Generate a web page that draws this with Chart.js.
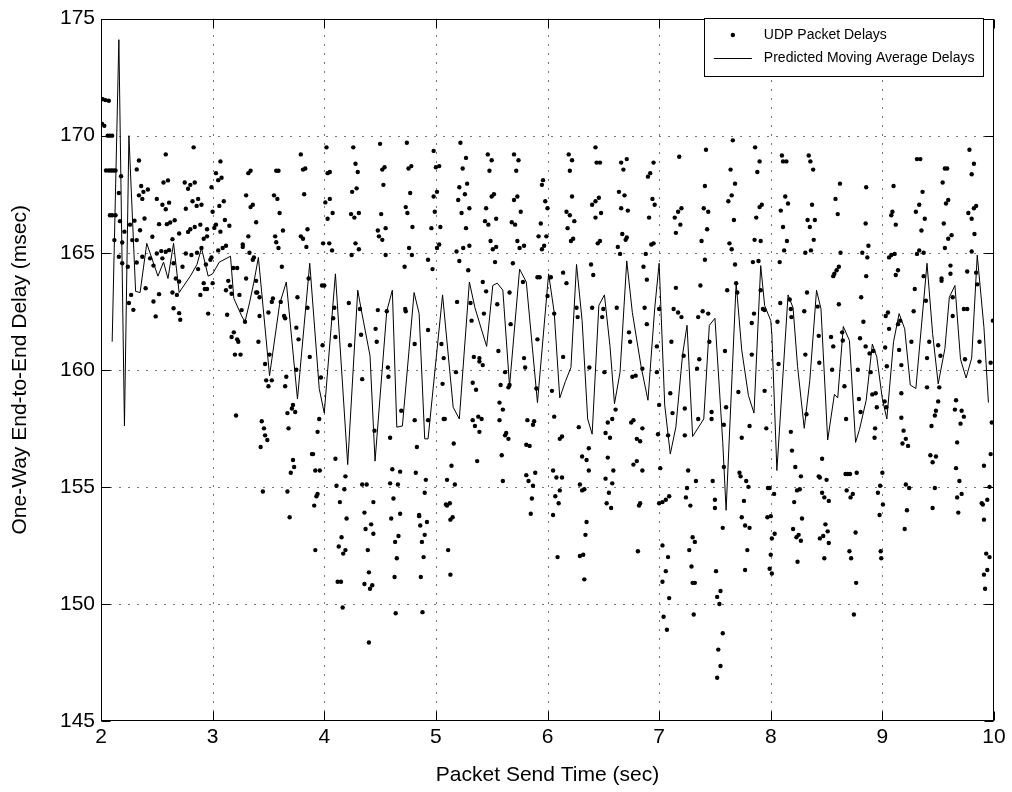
<!DOCTYPE html>
<html>
<head>
<meta charset="utf-8">
<script src="https://cdn.jsdelivr.net/npm/chart.js@4.4.1/dist/chart.umd.min.js"></script>
<style>
  html, body { margin: 0; padding: 0; background: #fff; }
  canvas { display: block; }
</style>
</head>
<body>
<canvas id="delayChart" width="1012" height="792"></canvas>
<script>
// ticks
const xTicks = [2, 3, 4, 5, 6, 7, 8, 9, 10];
const yTicks = [145, 150, 155, 160, 165, 170, 175];
const legendLabels = ["UDP Packet Delays", "Predicted Moving Average Delays"];

// [send time (sec), delay (msec)]
const udpDelays = [
  [2.015,171.56],[2.04,171.52],[2.07,171.49],[2.01,170.5],[2.03,170.42],[2.06,170.0],[2.08,170.0],[2.10,170.0],
  [2.045,168.51],[2.07,168.51],[2.09,168.51],[2.11,168.51],[2.13,168.51],[2.08,166.6],[2.10,166.6],[2.13,166.6],
  [2.12,165.54],[2.16,167.55],[2.18,168.27],[2.17,166.35],[2.21,165.9],[2.16,164.83],[2.19,164.55],[2.19,165.44],
  [2.24,164.4],[2.27,163.2],[2.29,162.56],[2.25,162.85],[2.26,166.2],[2.28,165.54],[2.30,166.37],[2.32,164.58],
  [2.32,165.54],[2.32,168.56],[2.34,168.94],[2.35,165.96],[2.36,167.85],[2.34,167.45],[2.37,167.3],[2.38,167.6],
  [2.39,166.46],[2.37,164.83],[2.42,167.7],[2.40,163.48],[2.46,165.68],[2.44,164.76],[2.47,164.45],[2.49,162.28],
  [2.47,162.92],[2.50,167.3],[2.52,166.22],[2.50,164.97],[2.52,163.23],[2.54,165.07],[2.55,167.05],[2.55,164.76],
  [2.56,168.0],[2.58,169.2],[2.58,166.86],[2.58,165.04],[2.60,168.09],[2.59,166.22],[2.61,165.11],[2.61,167.14],
  [2.62,166.29],[2.64,165.58],[2.65,164.55],[2.66,166.39],[2.64,163.3],[2.65,162.63],[2.67,163.9],[2.68,163.2],
  [2.70,163.77],[2.70,162.42],[2.71,162.14],[2.70,165.82],[2.73,164.4],[2.75,168.0],[2.76,166.88],[2.78,167.73],
  [2.78,165.89],[2.76,164.97],
  [2.83,169.5],[2.80,167.9],[2.84,168.0],[2.82,167.2],[2.857,167.0],[2.90,167.05],[2.87,167.3],[2.80,166.0],
  [2.84,166.1],[2.89,166.2],[2.92,165.6],[2.95,165.7],[2.95,166.0],[2.81,164.9],[2.86,165.0],[2.90,165.2],
  [2.94,164.5],[2.99,164.8],[2.98,164.7],[2.96,162.4],[2.89,163.2],[2.92,163.7],[2.93,163.45],[2.95,163.45],
  [2.87,164.3],[3.0,163.7],[2.99,167.8],[3.0,166.75],[3.03,168.4],[3.05,168.1],[3.08,168.2],[3.07,168.9],
  [3.06,167.0],[3.10,167.2],[3.015,166.06],[3.03,166.2],[3.07,165.9],[3.11,166.4],[3.15,166.15],[3.05,165.1],
  [3.09,165.2],[3.12,165.3],[3.14,163.8],[3.16,163.55],[3.12,163.4],[3.17,163.25],[3.185,164.35],[3.22,164.35],
  [3.24,163.2],[3.26,162.55],[3.29,162.05],[3.30,163.9],[3.13,162.35],[3.17,161.4],[3.22,161.3],[3.23,161.2],
  [3.19,161.6],[3.27,165.35],[3.27,165.25],[3.32,165.7],[3.30,167.45],[3.32,168.4],[3.34,168.5],[3.34,166.95],
  [3.36,167.05],[3.39,166.3],[3.33,165.0],[3.36,164.7],[3.37,164.8],[3.39,163.8],[3.40,163.3],[3.39,163.3],
  [3.42,163.1],[3.42,162.3],[3.41,161.2],[3.55,167.45],[3.58,167.3],[3.57,168.5],[3.59,168.5],[3.60,166.7],
  [3.63,165.95],[3.56,165.7],[3.57,165.45],[3.59,165.2],[3.62,164.4],[3.53,162.9],[3.54,163.05],[3.61,162.9],
  [3.64,162.3],[3.65,162.2],[3.50,162.45],[3.76,163.1],[3.75,161.8],[3.77,161.3],[3.79,169.2],[3.81,168.55],
  [3.83,168.6],[3.82,167.5],[3.79,165.7],[3.81,165.6],[3.84,165.25],[3.85,166.0],[3.86,163.9],[3.85,162.65],
  [3.20,160.65],[3.25,160.65],[3.47,160.25],[3.51,160.65],[3.48,159.55],[3.53,159.55],[3.50,159.3],[3.66,159.7],
  [3.65,159.3],[3.87,160.55],[3.75,160.0],[3.21,158.05],[3.44,157.8],[3.46,157.5],[3.47,157.2],[3.49,157.0],
  [3.43,156.7],[3.72,158.5],[3.71,158.35],[3.67,158.15],[3.74,158.2],[3.68,157.5],[3.72,156.15],[3.73,155.85],
  [3.70,155.6],[3.45,154.8],[3.67,154.8],[3.69,153.7],
  [4.02,169.5],[4.03,168.4],[4.05,168.45],[4.01,167.15],[4.05,167.3],[4.075,166.7],[4.03,166.45],[3.99,165.4],
  [4.045,165.4],[4.07,165.1],[4.26,169.5],[4.28,168.8],[4.30,168.45],[4.25,167.6],[4.29,167.75],[4.24,166.65],
  [4.27,166.5],[4.31,166.7],[4.28,165.4],[4.31,165.15],[4.245,164.9],[4.50,169.65],[4.52,168.55],[4.54,168.65],
  [4.53,167.9],[4.51,166.65],[4.48,165.95],[4.49,165.7],[4.52,165.55],[4.55,166.05],[4.55,164.9],[4.74,169.7],
  [4.755,168.6],[4.78,168.7],[4.77,167.55],[4.73,166.95],[4.745,166.7],[4.79,166.1],[4.76,165.2],[4.785,164.9],
  [4.72,164.4],[4.93,164.7],[4.93,161.7],[3.98,163.6],[4.00,163.6],[4.09,162.65],[4.08,162.2],[4.10,161.4],
  [4.22,162.85],[4.32,162.6],[4.33,161.5],[4.48,162.55],[4.46,161.75],[4.47,161.2],[4.56,162.5],[4.725,162.6],
  [4.73,162.5],[4.81,161.1],[3.985,161.05],[4.23,161.05],
  [3.97,159.67],[3.955,157.9],[3.94,157.35],[3.89,156.4],[3.90,156.4],[3.92,155.7],[3.96,155.7],[3.94,154.7],
  [3.93,154.6],[3.91,154.2],[3.92,152.3],[4.10,156.2],[4.19,155.45],[4.11,155.05],[4.18,154.9],[4.14,154.35],
  [4.20,153.65],[4.155,152.85],[4.13,152.45],[4.19,152.3],[4.17,152.15],[4.12,150.95],[4.15,150.95],[4.165,149.85],
  [4.34,159.6],[4.34,155.1],[4.38,155.1],[4.44,154.35],[4.36,153.9],[4.37,153.2],[4.42,153.4],[4.44,153.0],
  [4.39,152.3],[4.40,151.35],[4.36,150.85],[4.41,150.65],[4.43,150.8],[4.40,148.35],[4.45,157.4],[4.57,160.1],
  [4.575,159.7],[4.59,157.1],[4.61,155.75],[4.68,155.65],[4.59,155.15],[4.66,155.1],[4.62,154.5],[4.60,153.65],
  [4.68,153.85],[4.665,152.9],[4.635,152.65],[4.65,151.95],[4.63,151.15],[4.64,149.6],[4.69,158.25],[4.81,157.85],
  [4.83,156.7],[4.82,155.6],[4.91,155.3],[4.90,154.75],[4.85,153.8],[4.85,153.75],[4.86,153.35],[4.92,153.5],
  [4.90,152.95],[4.875,152.65],[4.89,152.0],[4.865,151.15],[4.88,149.65],[4.93,157.85],
  [4.98,169.35],[5.0,168.65],[5.03,168.7],[5.01,167.6],[4.98,167.4],[4.99,166.75],[4.96,166.05],[5.04,166.1],
  [5.01,165.2],[5.03,165.35],[4.97,164.3],[5.22,169.7],[5.27,169.05],[5.24,168.6],[5.28,167.95],[5.21,167.8],
  [5.26,167.5],[5.20,167.25],[5.30,166.9],[5.23,166.7],[5.27,166.05],[5.185,165.05],[5.245,165.2],[5.30,165.3],
  [5.21,164.65],[5.29,164.25],[5.465,169.2],[5.50,168.95],[5.48,168.5],[5.50,167.4],[5.52,167.5],[5.45,166.9],
  [5.54,166.45],[5.44,166.35],[5.47,166.2],[5.49,165.5],[5.51,165.15],[5.54,165.25],[5.53,164.6],[5.42,163.75],
  [5.45,163.35],[5.55,162.8],[5.43,162.4],[5.31,162.85],[5.32,162.1],[5.19,162.9],[5.05,161.1],[5.70,169.2],
  [5.74,168.95],[5.72,168.5],[5.73,167.4],[5.70,167.25],[5.76,166.75],[5.68,166.3],[5.71,166.2],[5.73,165.5],
  [5.75,165.2],[5.79,165.3],[5.69,164.55],[5.66,163.3],[5.67,161.95],[5.78,163.75],[5.91,163.95],[5.93,163.95],
  [5.91,161.3],[5.95,167.9],[5.96,168.1],[5.98,167.2],[6.0,166.9],[5.94,166.25],[5.92,165.7],[5.99,165.7],
  [5.97,165.3],[5.95,165.15],[6.0,163.15],
  [5.07,160.5],[5.06,159.4],[5.08,157.9],[5.07,157.9],[5.18,159.9],[5.16,156.85],[5.14,155.9],[5.10,155.3],
  [5.17,155.1],[5.09,154.25],[5.10,154.2],[5.125,154.3],[5.15,153.7],[5.13,153.6],[5.11,152.3],[5.13,151.25],
  [5.34,160.55],[5.39,160.5],[5.39,160.35],[5.42,160.2],[5.33,159.45],[5.36,159.15],[5.33,157.85],[5.38,158.0],
  [5.41,157.9],[5.35,157.6],[5.39,157.35],[5.37,156.1],[5.56,160.8],[5.62,159.9],[5.58,159.35],[5.65,159.25],
  [5.66,159.35],[5.57,158.6],[5.60,158.3],[5.57,157.85],[5.63,157.3],[5.62,157.2],[5.65,157.05],[5.59,156.35],
  [5.60,155.25],[5.79,160.5],[5.80,160.1],[5.90,159.2],[5.82,157.85],[5.87,157.65],[5.88,157.8],[5.81,156.8],
  [5.84,156.75],[5.89,155.6],[5.81,155.5],[5.83,155.25],[5.87,155.05],[5.86,154.5],[5.85,153.85],
  [6.19,169.2],[6.22,168.95],[6.20,168.5],[6.22,167.4],[6.17,166.75],[6.20,166.6],[6.24,166.35],[6.18,166.05],
  [6.21,165.5],[6.23,165.6],[6.43,169.5],[6.44,168.85],[6.47,168.85],[6.40,167.05],[6.43,167.2],[6.46,167.35],
  [6.43,166.5],[6.48,166.7],[6.45,165.4],[6.47,165.5],[6.66,168.85],[6.71,169.0],[6.68,168.55],[6.64,167.6],
  [6.69,167.45],[6.66,166.9],[6.72,166.8],[6.67,165.8],[6.70,165.55],[6.71,165.65],[6.63,165.25],[6.65,164.95],
  [6.95,168.85],[6.92,168.4],[6.90,168.25],[6.94,167.3],[6.96,167.05],[6.91,166.5],[6.95,165.4],[6.93,165.35],
  [6.88,164.95],
  [6.03,163.95],[6.14,164.15],[6.17,163.7],[6.06,162.4],[6.26,162.65],[6.27,162.25],[6.39,164.5],[6.41,164.05],
  [6.40,162.65],[6.50,162.6],[6.49,162.25],[6.62,162.65],[6.73,161.6],[6.74,161.2],[6.86,164.4],[6.89,163.85],
  [6.87,162.65],[6.89,161.95],[6.98,161.0],[7.0,162.6],[6.14,160.55],[6.375,160.1],[6.51,159.9],[6.76,159.7],
  [6.79,159.75],[6.85,160.05],[6.98,159.9],
  [6.04,159.1],[6.06,158.0],[6.11,157.05],[6.13,157.15],[6.05,155.7],[6.08,155.4],[6.13,155.4],[6.11,154.85],
  [6.07,154.6],[6.10,154.3],[6.05,153.8],[6.09,152.0],[6.28,157.55],[6.37,156.65],[6.31,156.3],[6.35,156.15],
  [6.37,155.7],[6.29,155.1],[6.31,154.85],[6.33,154.9],[6.35,153.5],[6.34,152.95],[6.29,152.05],[6.32,152.1],
  [6.33,151.05],[6.54,157.75],[6.58,157.9],[6.52,157.3],[6.56,157.1],[6.54,156.25],[6.59,155.7],[6.52,155.35],
  [6.58,155.15],[6.55,154.75],[6.53,154.3],[6.57,154.1],[6.61,158.3],[6.75,157.75],[6.77,157.85],[6.80,157.05],
  [6.83,156.95],[6.85,157.5],[6.77,155.95],[6.80,156.1],[6.85,155.7],[6.82,154.2],[6.83,154.3],[6.81,152.25],
  [7.0,158.5],[6.99,157.25],[7.0,154.3],
  [7.18,169.1],[7.14,166.5],[7.17,166.75],[7.20,166.9],[7.19,166.2],[7.15,165.85],[7.42,169.4],[7.41,167.85],
  [7.40,166.9],[7.44,166.75],[7.43,166.0],[7.38,165.5],[7.66,169.8],[7.64,168.55],[7.68,167.95],[7.65,167.45],
  [7.62,167.2],[7.67,166.4],[7.63,165.4],[7.65,165.15],[7.86,169.5],[7.90,168.9],[7.88,168.45],[7.90,166.95],
  [7.92,167.05],[7.87,166.5],[7.855,165.55],[7.91,165.5],
  [7.41,164.7],[7.37,163.6],[7.15,163.5],[7.13,162.6],[7.17,162.45],[7.20,162.25],[7.11,161.2],[7.22,160.6],
  [7.35,162.25],[7.39,162.5],[7.44,162.4],[7.45,161.2],[7.68,164.5],[7.61,163.4],[7.69,163.7],[7.70,163.3],
  [7.59,160.8],[7.83,162.0],[7.85,162.4],[7.83,160.65],[7.84,164.6],[7.89,164.65],[7.91,163.4],[7.93,162.6],
  [7.945,162.55],[7.36,160.45],[7.34,160.05],
  [7.10,159.0],[7.12,158.15],[7.08,157.2],[7.01,155.8],[7.03,154.35],[7.06,154.45],[7.09,154.6],[7.03,152.5],
  [7.08,152.0],[7.06,151.4],[7.03,150.95],[7.09,150.25],[7.04,149.45],[7.07,148.9],[7.23,158.35],[7.23,157.2],
  [7.26,155.7],[7.33,155.25],[7.25,154.95],[7.24,154.55],[7.28,154.2],[7.30,152.85],[7.32,152.65],[7.27,152.3],
  [7.29,151.6],[7.30,150.9],[7.32,150.9],[7.31,149.55],[7.35,157.9],[7.47,158.2],[7.47,157.9],[7.48,155.25],
  [7.50,154.45],[7.50,154.1],[7.57,153.25],[7.51,151.4],[7.55,150.55],[7.52,150.3],[7.54,150.0],[7.57,148.75],
  [7.53,148.05],[7.55,147.35],[7.52,146.85],[7.58,157.65],[7.58,155.85],[7.60,158.4],[7.74,157.1],[7.72,155.6],
  [7.73,155.45],[7.78,155.25],[7.80,155.0],[7.76,154.4],[7.74,153.7],[7.77,153.35],[7.81,153.25],[7.79,152.3],
  [7.77,151.45],[7.71,159.05],[7.81,157.6],[7.945,159.1],[7.96,157.5],[7.975,154.95],[7.99,154.95],[7.97,153.7],
  [8.0,153.75],[8.01,152.8],[8.0,152.1],[7.99,151.5],[8.01,151.3],
  [8.10,169.15],[8.11,168.9],[8.14,168.9],[8.13,167.4],[8.155,167.1],[8.09,166.8],[8.11,166.1],[8.145,165.5],
  [8.12,165.1],[8.34,169.15],[8.355,168.9],[8.38,168.55],[8.37,167.05],[8.33,166.4],[8.35,166.1],[8.395,166.4],
  [8.385,165.55],[8.36,165.1],[8.31,165.0],[8.62,167.95],[8.58,167.3],[8.60,166.65],[8.625,165.0],[8.855,167.8],
  [8.85,166.25],[8.875,165.3],[8.82,165.0],[8.865,164.8],[8.56,164.0],[8.57,164.1],[8.59,164.25],[8.61,164.4],
  [8.08,164.6],[8.085,162.85],[8.06,162.05],[8.07,160.25],[8.17,163.0],[8.18,162.6],[8.185,162.25],[8.30,162.5],
  [8.325,163.3],[8.31,160.65],[8.42,162.7],[8.43,161.45],[8.435,160.3],[8.61,162.8],[8.54,161.4],[8.56,161.0],
  [8.55,160.0],[8.64,161.6],[8.645,161.25],[8.66,159.3],[8.675,157.9],[8.81,163.1],[8.83,162.05],[8.80,161.35],
  [8.78,160.0],[8.79,158.75],[8.805,158.2],[8.85,161.0],[8.885,160.7],[8.895,159.9],[8.92,160.8],[8.91,158.95],
  [8.94,159.0],[8.95,158.4],[8.935,157.5],[8.93,157.1],[9.02,158.65],[9.035,158.4],[8.855,164.0],[8.32,158.1],
  [8.03,154.7],[8.035,153.0],[8.19,156.55],[8.22,155.85],[8.27,155.45],[8.235,154.85],[8.26,154.9],[8.21,154.35],
  [8.28,153.65],[8.20,153.2],[8.23,152.85],[8.25,152.95],[8.27,152.7],[8.24,151.8],[8.18,157.35],[8.46,156.2],
  [8.43,155.45],[8.44,155.4],[8.50,155.3],[8.46,154.75],[8.48,154.55],[8.52,154.4],[8.49,153.4],[8.51,153.1],
  [8.52,152.6],[8.47,152.9],[8.44,152.8],[8.48,151.95],[8.67,155.55],[8.69,155.55],[8.71,155.55],[8.77,155.6],
  [8.68,154.85],[8.715,154.55],[8.735,154.7],[8.705,152.25],[8.72,151.95],[8.76,153.05],[8.765,150.9],[8.745,149.55],
  [9.0,155.6],[8.98,155.05],[8.96,154.75],[8.975,153.8],[9.005,154.25],[8.985,152.25],[8.99,151.95],
  [9.08,166.6],[9.09,166.75],[9.10,167.85],[9.12,166.2],[9.06,164.8],[9.08,164.9],[9.11,164.95],[9.31,169.0],
  [9.34,169.0],[9.36,167.6],[9.33,167.05],[9.30,166.75],[9.38,166.45],[9.35,165.95],[9.31,164.95],[9.33,165.1],
  [9.37,165.0],[9.54,168.0],[9.56,168.6],[9.58,168.6],[9.57,167.1],[9.59,167.25],[9.55,166.25],[9.59,165.6],
  [9.62,165.75],[9.56,165.2],[9.78,169.4],[9.82,168.8],[9.80,168.35],[9.77,166.7],[9.80,166.45],[9.82,166.9],
  [9.84,167.0],[9.825,165.8],[9.80,165.05],
  [9.14,164.25],[9.12,164.05],[9.03,162.3],[9.05,162.45],[9.06,161.75],[9.025,160.95],[9.04,160.15],[9.16,162.1],
  [9.14,161.95],[9.15,160.85],[9.17,160.2],[9.26,161.2],[9.28,162.5],[9.29,163.45],[9.37,164.0],[9.39,162.95],
  [9.40,160.5],[9.42,161.2],[9.40,159.25],[9.50,161.05],[9.52,160.6],[9.51,159.25],[9.53,163.8],[9.53,163.9],
  [9.61,164.45],[9.61,164.1],[9.63,163.1],[9.63,162.3],[9.50,158.65],[9.48,158.25],[9.47,158.05],[9.44,157.6],
  [9.73,162.6],[9.76,162.6],[9.74,160.45],[9.76,164.2],[9.84,164.15],[9.85,163.65],[9.87,161.2],[9.87,160.35],
  [9.66,158.7],[9.65,158.3],[9.71,158.25],[9.73,158.0],[9.70,157.7],[9.67,156.9],[9.99,162.1],[9.97,160.3],
  [9.98,157.75],
  [9.17,159.0],[9.17,157.95],[9.19,157.4],[9.18,156.85],[9.21,157.05],[9.23,156.75],[9.21,155.1],[9.24,154.95],
  [9.22,154.0],[9.20,153.2],[9.43,156.35],[9.45,156.05],[9.48,156.3],[9.47,154.95],[9.45,154.1],[9.66,155.8],
  [9.69,155.25],[9.71,154.7],[9.67,154.55],[9.68,153.9],[9.97,156.4],[9.91,155.9],[9.89,154.3],[9.90,154.25],
  [9.94,154.45],[9.91,153.6],[9.93,152.15],[9.96,152.0],[9.91,151.25],[9.94,151.45],[9.92,150.65],[9.96,155.0]
];

// predicted moving average, [send time (sec), delay (msec)]
const avgDelays = [
  [2.10,161.2],[2.16,174.1],[2.21,157.6],[2.25,170.0],[2.31,163.35],[2.35,163.3],[2.41,165.4],[2.51,164.0],
  [2.56,164.6],[2.60,163.9],[2.65,165.4],[2.70,163.3],[2.80,164.0],[2.86,164.5],[2.90,165.2],[2.96,164.0],
  [3.00,164.1],[3.06,164.6],[3.16,164.85],[3.19,163.05],[3.26,162.3],[3.29,162.05],[3.33,162.85],[3.37,163.75],
  [3.41,164.8],[3.51,159.75],[3.60,162.8],[3.66,163.75],[3.76,158.75],[3.87,164.55],[3.955,159.2],[4.00,158.15],
  [4.10,164.1],[4.21,155.95],[4.30,163.4],[4.33,162.6],[4.41,160.6],[4.455,156.1],[4.56,162.5],[4.61,163.4],
  [4.65,157.55],[4.70,157.6],[4.805,163.3],[4.85,162.4],[4.90,157.05],[4.93,157.05],[5.06,163.2],[5.155,158.4],
  [5.21,157.9],[5.30,163.75],[5.35,162.65],[5.41,161.7],[5.455,161.0],[5.51,163.6],[5.55,163.7],[5.60,163.4],
  [5.66,159.3],[5.75,164.3],[5.81,163.75],[5.91,158.6],[6.01,164.1],[6.06,162.45],[6.11,158.8],[6.16,159.5],
  [6.21,160.1],[6.26,164.5],[6.31,162.1],[6.36,157.9],[6.40,157.25],[6.46,162.75],[6.51,163.2],[6.56,161.0],
  [6.60,158.55],[6.65,159.9],[6.71,164.65],[6.76,162.45],[6.84,160.1],[6.90,158.7],[6.96,162.6],[7.00,164.55],
  [7.05,158.5],[7.10,156.4],[7.15,157.55],[7.21,160.65],[7.25,161.9],[7.30,157.15],[7.40,157.9],[7.45,161.9],
  [7.50,162.2],[7.57,156.9],[7.60,154.0],[7.69,163.7],[7.74,160.85],[7.80,158.9],[7.85,158.15],[7.91,164.45],
  [7.945,162.75],[8.00,162.1],[8.01,161.5],[8.055,155.7],[8.155,163.2],[8.20,162.65],[8.24,160.15],[8.30,157.5],
  [8.35,159.55],[8.41,163.4],[8.45,162.6],[8.51,157.0],[8.57,158.95],[8.60,158.8],[8.65,161.85],[8.705,161.25],
  [8.76,156.9],[8.795,157.45],[8.855,158.7],[8.91,161.1],[8.95,160.55],[9.00,158.75],[9.04,157.9],[9.10,161.2],
  [9.15,162.4],[9.20,161.75],[9.25,159.35],[9.30,159.2],[9.40,164.55],[9.45,161.55],[9.50,159.4],[9.56,160.9],
  [9.60,163.1],[9.65,163.6],[9.70,160.45],[9.75,159.65],[9.80,160.5],[9.85,164.9],[9.91,161.8],[9.95,158.6]
];

const FONT = '"Liberation Sans", Arial, Helvetica, sans-serif';

// MATLAB style box, inward ticks and dotted grid
const matlabAxes = {
  id: "matlabAxes",
  beforeDatasetsDraw(chart) {
    const { ctx, chartArea: a, scales: { x, y } } = chart;
    ctx.save();
    ctx.strokeStyle = "#777";
    ctx.lineWidth = 1;
    ctx.setLineDash([2, 7]);
    xTicks.slice(1, -1).forEach(v => {
      const px = Math.round(x.getPixelForValue(v)) + 0.5;
      ctx.beginPath(); ctx.moveTo(px, a.bottom); ctx.lineTo(px, a.top); ctx.stroke();
    });
    yTicks.slice(1, -1).forEach(v => {
      const py = Math.round(y.getPixelForValue(v)) + 0.5;
      ctx.beginPath(); ctx.moveTo(a.left, py); ctx.lineTo(a.right, py); ctx.stroke();
    });
    ctx.restore();
  },
  afterDatasetsDraw(chart) {
    const { ctx, chartArea: a, scales: { x, y } } = chart;
    const tl = 9;
    ctx.save();
    ctx.strokeStyle = "#000";
    ctx.lineWidth = 1;
    const l = Math.round(a.left) + 0.5, r = Math.round(a.right) - 0.5;
    const t = Math.round(a.top) + 0.5, b = Math.round(a.bottom) - 0.5;
    ctx.strokeRect(l, t, r - l, b - t);
    ctx.beginPath();
    xTicks.forEach(v => {
      const px = Math.round(x.getPixelForValue(v)) + 0.5;
      ctx.moveTo(px, b); ctx.lineTo(px, b - tl);
      ctx.moveTo(px, t); ctx.lineTo(px, t + tl);
    });
    yTicks.forEach(v => {
      const py = Math.round(y.getPixelForValue(v)) + 0.5;
      ctx.moveTo(l, py); ctx.lineTo(l + tl, py);
      ctx.moveTo(r, py); ctx.lineTo(r - tl, py);
    });
    ctx.stroke();
    ctx.restore();
  },
  afterDraw(chart) {
    const { ctx, chartArea: a } = chart;
    ctx.save();
    ctx.font = "14px " + FONT;
    const w = Math.max(...legendLabels.map(s => ctx.measureText(s).width));
    const right = Math.round(a.right) - 10.5;
    const textX = right - 9 - w;
    const left = Math.round(textX - 60) + 0.5;
    const top = 18.5, bottom = 76.5;
    const rows = [35, 58];
    ctx.fillStyle = "#fff";
    ctx.fillRect(left, top, right - left, bottom - top);
    ctx.strokeStyle = "#000";
    ctx.lineWidth = 1;
    ctx.strokeRect(left, top, right - left, bottom - top);
    const s0 = textX - 50, s1 = textX - 12;
    // dot sample
    ctx.fillStyle = "#000";
    ctx.beginPath();
    ctx.arc((s0 + s1) / 2, rows[0], 2.2, 0, Math.PI * 2);
    ctx.fill();
    // line sample
    ctx.beginPath();
    ctx.moveTo(s0, rows[1] + 0.5); ctx.lineTo(s1, rows[1] + 0.5);
    ctx.stroke();
    ctx.textBaseline = "middle";
    ctx.textAlign = "left";
    legendLabels.forEach((s, i) => ctx.fillText(s, textX, rows[i]));
    ctx.restore();
  }
};

window.addEventListener("load", () => {
  Chart.defaults.font.family = FONT;
  Chart.defaults.color = "#000";

  const ctx = document.getElementById("delayChart").getContext("2d");

  new Chart(ctx, {
    type: "scatter",
    data: {
      datasets: [
        {
          label: legendLabels[0],
          data: udpDelays.map(p => ({ x: p[0], y: p[1] })),
          pointRadius: 2.2,
          pointBackgroundColor: "#000",
          pointBorderWidth: 0,
          showLine: false
        },
        {
          label: legendLabels[1],
          data: avgDelays.map(p => ({ x: p[0], y: p[1] })),
          showLine: true,
          borderColor: "#000",
          borderWidth: 1,
          pointRadius: 0,
          tension: 0
        }
      ]
    },
    options: {
      responsive: false,
      animation: false,
      devicePixelRatio: 1,
      layout: { padding: { left: 0, right: 18, top: 16, bottom: 0 } },
      plugins: {
        legend: { display: false },
        tooltip: { enabled: false }
      },
      scales: {
        x: {
          type: "linear",
          min: 2,
          max: 10,
          afterBuildTicks: s => { s.ticks = xTicks.map(v => ({ value: v })); },
          afterFit: s => { s.height = 71; },
          grid: { display: false, drawTicks: false },
          border: { display: false },
          ticks: { font: { size: 21 }, padding: 4, maxRotation: 0 },
          title: {
            display: true,
            text: "Packet Send Time (sec)",
            font: { size: 21 },
            padding: { top: 0, bottom: 4 }
          }
        },
        y: {
          type: "linear",
          min: 145,
          max: 175,
          afterBuildTicks: s => { s.ticks = yTicks.map(v => ({ value: v })); },
          afterFit: s => { s.width = 101; },
          grid: { display: false, drawTicks: false },
          border: { display: false },
          ticks: { font: { size: 21 }, padding: 6 },
          title: {
            display: true,
            text: "One-Way End-to-End Delay (msec)",
            font: { size: 21 },
            padding: { top: 8, bottom: 0 }
          }
        }
      }
    },
    plugins: [matlabAxes]
  });
});
</script>
</body>
</html>
